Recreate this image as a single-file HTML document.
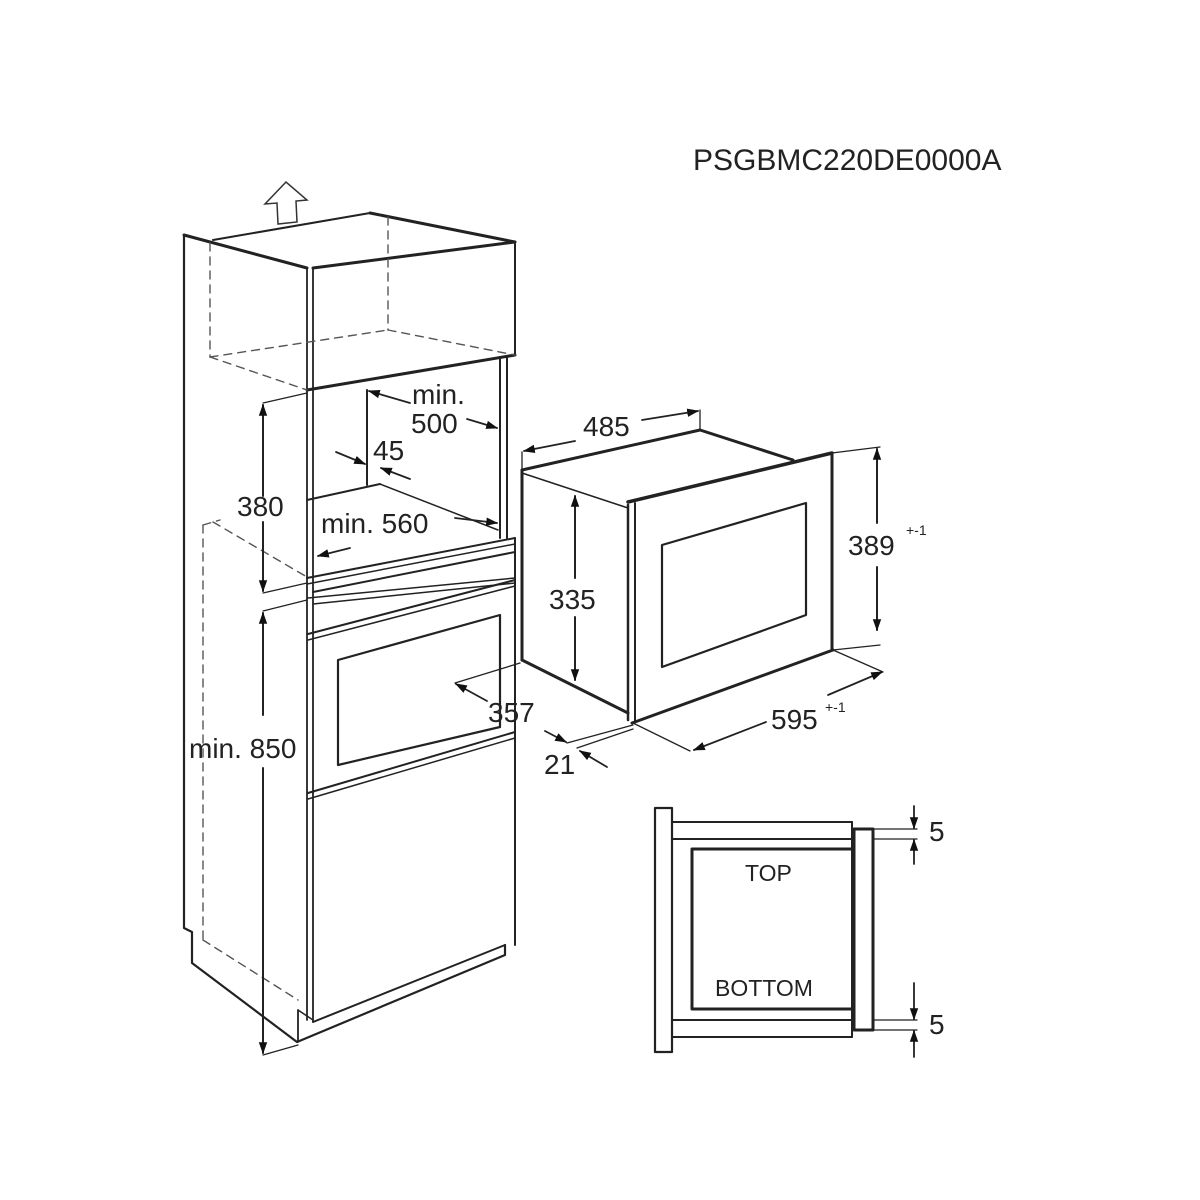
<!DOCTYPE html>
<html><head><meta charset="utf-8"><style>
html,body{margin:0;padding:0;background:#fff;}
svg{display:block;}
text{font-family:"Liberation Sans",sans-serif;fill:#222;}
</style></head><body>
<svg width="1200" height="1200" viewBox="0 0 1200 1200" xmlns="http://www.w3.org/2000/svg">
<defs>
<marker id="a" viewBox="0 0 10 10" refX="9" refY="5" markerWidth="12" markerHeight="12" orient="auto-start-reverse" markerUnits="userSpaceOnUse"><path d="M0,1.5 L10,5 L0,8.5 z" fill="#111"/></marker>
</defs>
<text x="693" y="170" font-size="30">PSGBMC220DE0000A</text>

<!-- up arrow -->
<polygon points="286,182 265,204 277,203 278,224 297,222 296,201 307,200" fill="#fff" stroke="#333" stroke-width="1.5"/>

<g fill="none" stroke="#222" stroke-linecap="round" stroke-linejoin="round">
<!-- tall cabinet -->
<polyline points="184,235 184,928 192,932 192,963 297,1042 505,955 505,945" stroke-width="2.2"/>
<line x1="184" y1="235" x2="307" y2="268" stroke-width="3"/>
<line x1="213" y1="240" x2="370" y2="213" stroke-width="2"/>
<line x1="370" y1="213" x2="515" y2="242" stroke-width="3"/>
<line x1="313" y1="268" x2="515" y2="242" stroke-width="3"/>
<line x1="515" y1="242" x2="515" y2="355" stroke-width="2"/>
<line x1="307" y1="390" x2="515" y2="355" stroke-width="3"/>
<line x1="307" y1="268" x2="307" y2="1020" stroke-width="1.8"/>
<line x1="313" y1="268" x2="313" y2="1022" stroke-width="1.8"/>
<line x1="298" y1="1010" x2="298" y2="1042" stroke-width="1.8"/>
<line x1="298" y1="1010" x2="313" y2="1020" stroke-width="1.5"/>
<g stroke-dasharray="8,6" stroke-width="1.4" stroke="#555">
<line x1="210" y1="243" x2="210" y2="357"/>
<line x1="210" y1="357" x2="307" y2="390"/>
<line x1="210" y1="357" x2="388" y2="330"/>
<line x1="388" y1="217" x2="388" y2="330"/>
<line x1="388" y1="330" x2="515" y2="355"/>
<line x1="203" y1="525" x2="220" y2="520"/>
<line x1="213" y1="522" x2="307" y2="577"/>
<line x1="203" y1="525" x2="203" y2="940"/>
<line x1="203" y1="940" x2="298" y2="1000"/>
</g>
<!-- niche -->
<line x1="500" y1="357" x2="500" y2="538" stroke-width="2"/>
<line x1="507" y1="357" x2="507" y2="538" stroke-width="2"/>
<line x1="367" y1="390" x2="367" y2="485" stroke-width="2"/>
<line x1="307" y1="500" x2="380" y2="484" stroke-width="2"/>
<line x1="380" y1="484" x2="498" y2="530" stroke-width="1.5"/>
<line x1="307" y1="578" x2="515" y2="538" stroke-width="2"/>
<line x1="307" y1="584" x2="515" y2="544" stroke-width="1.5"/>
<line x1="313" y1="592" x2="515" y2="552" stroke-width="2"/>
<line x1="515" y1="538" x2="515" y2="945" stroke-width="2"/>
<!-- oven front -->
<line x1="308" y1="598" x2="515" y2="578" stroke-width="1.5"/>
<line x1="313" y1="604" x2="515" y2="583" stroke-width="1.5"/>
<line x1="308" y1="634" x2="515" y2="580" stroke-width="2"/>
<line x1="308" y1="640" x2="515" y2="586" stroke-width="1.5"/>
<polygon points="338,660 500,615 500,727 338,765" stroke-width="2.2"/>
<line x1="308" y1="793" x2="515" y2="732" stroke-width="2"/>
<line x1="308" y1="799" x2="515" y2="738" stroke-width="1.5"/>
<line x1="313" y1="1022" x2="505" y2="945" stroke-width="2"/>
<!-- dims cabinet -->
<g stroke-width="1.3">
<line x1="263" y1="403" x2="307" y2="393"/>
<line x1="263" y1="593" x2="307" y2="583"/>
<line x1="263" y1="611" x2="307" y2="600"/>
<line x1="263" y1="1055" x2="298" y2="1045"/>
<line x1="455" y1="683" x2="520" y2="663"/>
</g>
<line x1="263" y1="496" x2="263" y2="405" stroke-width="2" marker-end="url(#a)"/>
<line x1="263" y1="522" x2="263" y2="591" stroke-width="2" marker-end="url(#a)"/>
<line x1="263" y1="715" x2="263" y2="613" stroke-width="2" marker-end="url(#a)"/>
<line x1="263" y1="768" x2="263" y2="1053" stroke-width="2" marker-end="url(#a)"/>
<line x1="410" y1="403" x2="369" y2="391" stroke-width="1.8" marker-end="url(#a)"/>
<line x1="467" y1="419" x2="497" y2="428" stroke-width="1.8" marker-end="url(#a)"/>
<line x1="336" y1="452" x2="365" y2="464" stroke-width="1.8" marker-end="url(#a)"/>
<line x1="410" y1="479" x2="381" y2="468" stroke-width="1.8" marker-end="url(#a)"/>
<line x1="350" y1="548" x2="318" y2="556" stroke-width="1.8" marker-end="url(#a)"/>
<line x1="455" y1="518" x2="497" y2="523" stroke-width="1.8" marker-end="url(#a)"/>
<line x1="487" y1="701" x2="456" y2="684" stroke-width="1.8" marker-end="url(#a)"/>

<!-- microwave -->
<line x1="522" y1="470" x2="700" y2="430" stroke-width="3"/>
<line x1="700" y1="430" x2="793" y2="460" stroke-width="3"/>
<line x1="522" y1="470" x2="522" y2="660" stroke-width="3"/>
<line x1="522" y1="473" x2="628" y2="508" stroke-width="1.5"/>
<line x1="522" y1="660" x2="628" y2="713" stroke-width="3"/>
<line x1="628" y1="502" x2="832" y2="453" stroke-width="3.5"/>
<line x1="832" y1="453" x2="832" y2="650" stroke-width="3"/>
<line x1="632" y1="723" x2="833" y2="650" stroke-width="3"/>
<line x1="628" y1="505" x2="628" y2="720" stroke-width="2.5"/>
<line x1="635" y1="503" x2="635" y2="722" stroke-width="2"/>
<polygon points="662,545 806,503 806,615 662,667" stroke-width="2.2"/>
<g stroke-width="1.3">
<line x1="522" y1="452" x2="522" y2="470"/>
<line x1="700" y1="410" x2="700" y2="430"/>
<line x1="832" y1="453" x2="880" y2="447"/>
<line x1="833" y1="650" x2="880" y2="645"/>
<line x1="633" y1="723" x2="690" y2="751"/>
<line x1="833" y1="650" x2="883" y2="672"/>
<line x1="567" y1="743" x2="633" y2="725"/>
<line x1="577" y1="748" x2="633" y2="729"/>
</g>
<line x1="575" y1="578" x2="575" y2="496" stroke-width="2" marker-end="url(#a)"/>
<line x1="575" y1="617" x2="575" y2="680" stroke-width="2" marker-end="url(#a)"/>
<line x1="575" y1="441" x2="524" y2="451" stroke-width="1.8" marker-end="url(#a)"/>
<line x1="642" y1="420" x2="698" y2="411" stroke-width="1.8" marker-end="url(#a)"/>
<line x1="877" y1="523" x2="877" y2="449" stroke-width="2" marker-end="url(#a)"/>
<line x1="877" y1="567" x2="877" y2="630" stroke-width="2" marker-end="url(#a)"/>
<line x1="766" y1="722" x2="694" y2="750" stroke-width="1.8" marker-end="url(#a)"/>
<line x1="828" y1="695" x2="882" y2="672" stroke-width="1.8" marker-end="url(#a)"/>
<line x1="545" y1="731" x2="566" y2="742" stroke-width="1.8" marker-end="url(#a)"/>
<line x1="607" y1="767" x2="580" y2="751" stroke-width="1.8" marker-end="url(#a)"/>

<!-- cross-section -->
<rect x="655" y="808" width="17" height="244" stroke-width="2.2"/>
<line x1="672" y1="822" x2="852" y2="822" stroke-width="2"/>
<line x1="672" y1="839" x2="852" y2="839" stroke-width="2"/>
<line x1="672" y1="1020" x2="852" y2="1020" stroke-width="2"/>
<line x1="672" y1="1037" x2="852" y2="1037" stroke-width="2"/>
<line x1="852" y1="822" x2="852" y2="1037" stroke-width="2"/>
<rect x="692" y="849" width="161" height="160" stroke-width="3"/>
<rect x="854" y="829" width="19" height="201" stroke-width="3"/>
<g stroke-width="1.3">
<line x1="873" y1="829" x2="917" y2="829"/>
<line x1="873" y1="839" x2="917" y2="839"/>
<line x1="873" y1="1020" x2="917" y2="1020"/>
<line x1="873" y1="1030" x2="917" y2="1030"/>
</g>
<line x1="914" y1="806" x2="914" y2="828" stroke-width="1.8" marker-end="url(#a)"/>
<line x1="914" y1="864" x2="914" y2="840" stroke-width="1.8" marker-end="url(#a)"/>
<line x1="914" y1="983" x2="914" y2="1019" stroke-width="1.8" marker-end="url(#a)"/>
<line x1="914" y1="1057" x2="914" y2="1031" stroke-width="1.8" marker-end="url(#a)"/>
</g>

<g font-size="28">
<text x="412" y="404">min.</text>
<text x="411" y="433">500</text>
<text x="373" y="460">45</text>
<text x="237" y="516">380</text>
<text x="321" y="533">min. 560</text>
<text x="189" y="758">min. 850</text>
<text x="488" y="722">357</text>
<text x="583" y="436">485</text>
<text x="549" y="609">335</text>
<text x="848" y="555">389</text>
<text x="771" y="729">595</text>
<text x="544" y="774">21</text>
<text x="929" y="841">5</text>
<text x="929" y="1034">5</text>
</g>
<g font-size="14">
<text x="906" y="535">+-1</text>
<text x="825" y="712">+-1</text>
</g>
<g font-size="23">
<text x="745" y="881">TOP</text>
<text x="715" y="996">BOTTOM</text>
</g>
</svg>
</body></html>
